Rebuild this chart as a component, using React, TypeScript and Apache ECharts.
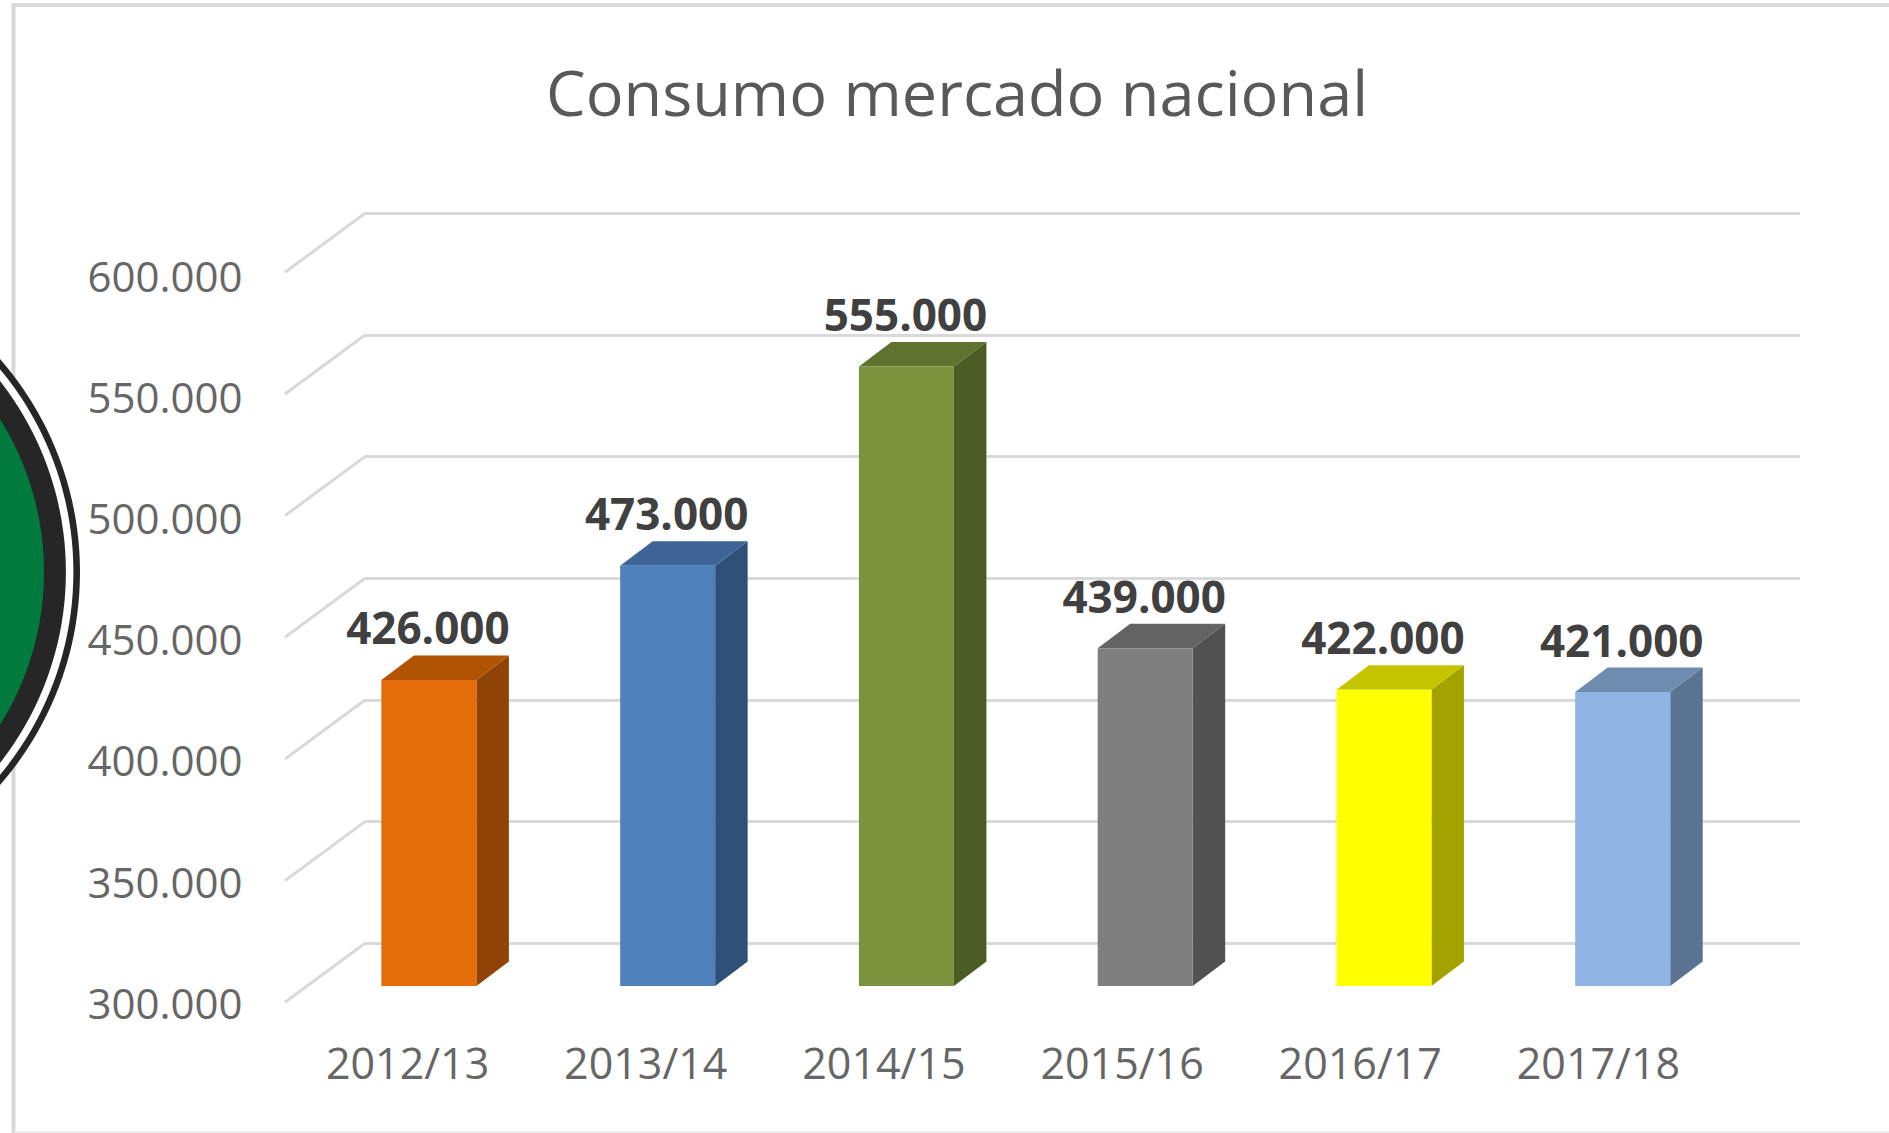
import React, { useEffect, useRef } from "react";
import * as echarts from "echarts";

const titleText = "Consumo mercado nacional";
const categories = ["2012/13", "2013/14", "2014/15", "2015/16", "2016/17", "2017/18"];
const values = [426000, 473000, 555000, 439000, 422000, 421000];
const tickValues = [300000, 350000, 400000, 450000, 500000, 550000, 600000];
const frontColors = ["#E36C09", "#4F81BD", "#7A933C", "#7F7F7F", "#FFFF00", "#8DB4E2"];
const topColors = ["#B05404", "#3E6498", "#5E742E", "#636363", "#C4C400", "#6E8CB0"];
const sideColors = ["#8F4304", "#2F5079", "#4B5D25", "#515151", "#A3A300", "#5A7390"];

const fmt = (v: number) => `${Math.floor(v / 1000)}.${String(v % 1000).padStart(3, "0")}`;
const FONT = '"Open Sans", sans-serif';
const MIN = 300000, MAX = 600000, STEP = 50000;
const DX = 32.5, DY = 24.5, BAR_W = 95;
const LOGO_X = -243.6, LOGO_Y = 572;

export default function App() {
  const ref = useRef<HTMLDivElement>(null);
  useEffect(() => {
    const chart = echarts.init(ref.current!, undefined, { renderer: "svg" });
    const yAxisBase = { type: "value", min: MIN, max: MAX, interval: STEP };
    const hiddenX = { type: "category", data: categories, show: false };
    chart.setOption({
      animation: false,
      backgroundColor: "#ffffff",
      title: {
        text: titleText, left: 952, top: 86, textAlign: "center", textVerticalAlign: "middle",
        textStyle: { color: "#595959", fontSize: 63, fontWeight: "normal", fontFamily: FONT },
      },
      grid: [
        { left: 288.5, top: 275, width: 1429, height: 727.3 },
        { left: 365, top: 213.3, width: 1435, height: 730 },
        { left: 309.5, top: 257.3, width: 1432.6, height: 728.7 },
      ],
      xAxis: [
        {
          type: "category", data: categories, gridIndex: 0,
          axisLine: { show: false }, axisTick: { show: false },
          axisLabel: { color: "#666666", fontSize: 43, fontFamily: FONT, margin: 38.5 },
        },
        { ...hiddenX, gridIndex: 1 },
        { ...hiddenX, gridIndex: 2 },
      ],
      yAxis: [
        {
          ...yAxisBase, gridIndex: 0, splitLine: { show: false },
          axisLine: { show: false }, axisTick: { show: false },
          axisLabel: { color: "#666666", fontSize: 42, fontFamily: FONT, margin: 46, formatter: (v: number) => fmt(v) },
        },
        {
          ...yAxisBase, gridIndex: 1, axisLine: { show: false }, axisTick: { show: false }, axisLabel: { show: false },
          splitLine: { show: true, lineStyle: { color: "#D9D9D9", width: 3 } },
        },
        { ...yAxisBase, gridIndex: 2, show: false },
      ],
      series: [
        {
          type: "custom", xAxisIndex: 1, yAxisIndex: 1, silent: true, z: 1,
          data: tickValues.map((v) => [0, v]),
          encode: { x: 0, y: 1 },
          renderItem: (params: any, api: any) => {
            const p = api.coord([0, api.value(1)]);
            const x = params.coordSys.x;
            return {
              type: "line",
              shape: { x1: x, y1: p[1], x2: x - 80, y2: p[1] + 59 },
              style: { stroke: "#D9D9D9", lineWidth: 3, fill: "none" },
            };
          },
        },
        {
          type: "custom", xAxisIndex: 2, yAxisIndex: 2, silent: true, z: 3,
          data: values.map((v, i) => [i, v]),
          encode: { x: 0, y: 1 },
          renderItem: (params: any, api: any) => {
            const i = api.value(0);
            const v = api.value(1);
            const top = api.coord([i, v]);
            const base = api.coord([i, MIN]);
            const xL = top[0] - BAR_W / 2;
            const xR = top[0] + BAR_W / 2;
            return {
              type: "group",
              children: [
                {
                  type: "polygon",
                  shape: { points: [[xR, base[1]], [xR + DX, base[1] - DY], [xR + DX, top[1] - DY], [xR, top[1]]] },
                  style: { fill: sideColors[i] },
                },
                {
                  type: "polygon",
                  shape: { points: [[xL, top[1]], [xL + DX, top[1] - DY], [xR + DX, top[1] - DY], [xR, top[1]]] },
                  style: { fill: topColors[i] },
                },
                {
                  type: "rect",
                  shape: { x: xL, y: top[1], width: BAR_W, height: base[1] - top[1] },
                  style: { fill: frontColors[i] },
                },
                {
                  type: "text",
                  style: {
                    x: top[0] - 1, y: top[1] - DY - 28, text: fmt(v), align: "center", verticalAlign: "middle",
                    fill: "#404040", fontSize: 44, fontWeight: "bold", fontFamily: FONT,
                  },
                },
              ],
            };
          },
        },
      ],
      graphic: [
        { type: "line", z: 10, silent: true, shape: { x1: 13.5, y1: 3, x2: 13.5, y2: 1133 }, style: { stroke: "#D9D9D9", lineWidth: 4 } },
        { type: "line", z: 10, silent: true, shape: { x1: 11.5, y1: 5, x2: 1889, y2: 5 }, style: { stroke: "#D9D9D9", lineWidth: 4 } },
        { type: "line", z: 10, silent: true, shape: { x1: 15, y1: 1132, x2: 1889, y2: 1132 }, style: { stroke: "#EEEEEE", lineWidth: 2 } },
        { type: "circle", z: 20, silent: true, shape: { cx: LOGO_X, cy: LOGO_Y, r: 323.6 }, style: { fill: "#262626" } },
        { type: "circle", z: 21, silent: true, shape: { cx: LOGO_X, cy: LOGO_Y, r: 317 }, style: { fill: "#ffffff" } },
        { type: "circle", z: 22, silent: true, shape: { cx: LOGO_X, cy: LOGO_Y, r: 309.5 }, style: { fill: "#262626" } },
        { type: "circle", z: 23, silent: true, shape: { cx: LOGO_X, cy: LOGO_Y, r: 287.6 }, style: { fill: "#007A3D" } },
      ],
    });
    return () => chart.dispose();
  }, []);
  return <div ref={ref} style={{ position: "absolute", left: 0, top: 0, width: 1889, height: 1133 }} />;
}
